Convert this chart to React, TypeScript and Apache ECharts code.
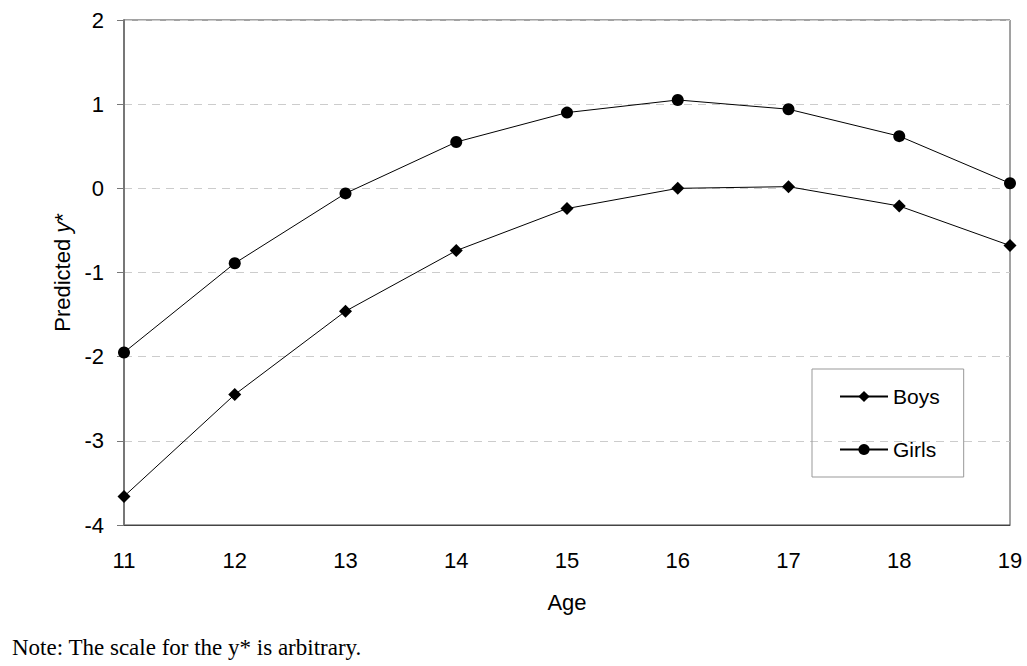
import React, { useEffect, useRef } from "react";
import * as echarts from "echarts";

const ages = [11, 12, 13, 14, 15, 16, 17, 18, 19];
const boys = [-3.66, -2.45, -1.46, -0.74, -0.24, 0.0, 0.02, -0.21, -0.68];
const girls = [-1.95, -0.89, -0.06, 0.55, 0.9, 1.05, 0.94, 0.62, 0.06];
const noteText = "Note: The scale for the y* is arbitrary.";

export default function App() {
  const ref = useRef<HTMLDivElement>(null);
  useEffect(() => {
    document.body.style.margin = "0";
    if (!ref.current) return;
    const chart = echarts.init(ref.current, undefined, { renderer: "svg" });
    const sans = "'Liberation Sans', Arial, sans-serif";
    chart.setOption({
      animation: false,
      backgroundColor: "#ffffff",
      grid: {
        left: 124,
        right: 17,
        top: 20,
        bottom: 141,
        show: true,
        borderColor: "#444",
        borderWidth: 1,
      },
      legend: {
        orient: "vertical",
        left: 812,
        top: 369,
        itemWidth: 48,
        itemHeight: 14,
        itemGap: 32,
        padding: [17, 24, 17, 27],
        borderColor: "#999",
        borderWidth: 1,
        textStyle: { fontFamily: sans, fontSize: 21, color: "#000" },
        data: ["Boys", "Girls"],
      },
      xAxis: {
        type: "value",
        min: 11,
        max: 19,
        interval: 1,
        name: "Age",
        nameLocation: "middle",
        nameGap: 66,
        nameTextStyle: { fontFamily: sans, fontSize: 22, color: "#000" },
        axisLine: { show: true, onZero: false, lineStyle: { color: "#444", width: 1 } },
        axisTick: { show: false },
        splitLine: { show: false },
        axisLabel: { fontFamily: sans, fontSize: 22, color: "#000", margin: 24 },
      },
      yAxis: {
        type: "value",
        min: -4,
        max: 2,
        interval: 1,
        name: "{a|Predicted }{b|y}{a|*}",
        nameLocation: "middle",
        nameGap: 50,
        nameRotate: 90,
        nameTextStyle: {
          rich: {
            a: { fontFamily: sans, fontSize: 22, color: "#000" },
            b: { fontFamily: sans, fontSize: 22, color: "#000", fontStyle: "italic" },
          },
        },
        axisLine: { show: true, lineStyle: { color: "#777", width: 2 } },
        axisTick: { show: true, inside: false, length: 7, lineStyle: { color: "#777" } },
        splitLine: { show: true, lineStyle: { color: "#ccc", type: [8, 6], width: 1 } },
        axisLabel: { fontFamily: sans, fontSize: 22, color: "#000", margin: 20 },
      },
      series: [
        {
          name: "Boys",
          type: "line",
          data: ages.map((a, i) => [a, boys[i]]),
          symbol: "diamond",
          symbolSize: 13,
          lineStyle: { color: "#000", width: 1 },
          itemStyle: { color: "#000" },
          z: 3,
        },
        {
          name: "Girls",
          type: "line",
          data: ages.map((a, i) => [a, girls[i]]),
          symbol: "circle",
          symbolSize: 12,
          lineStyle: { color: "#000", width: 1 },
          itemStyle: { color: "#000" },
          z: 3,
        },
      ],
      graphic: [
        {
          type: "text",
          left: 12,
          top: 636,
          style: {
            text: noteText,
            fontFamily: "'Liberation Serif', 'Times New Roman', serif",
            fontSize: 23,
            fill: "#000",
          },
        },
      ],
    });
    return () => chart.dispose();
  }, []);
  return <div ref={ref} style={{ width: 1027, height: 666 }} />;
}
